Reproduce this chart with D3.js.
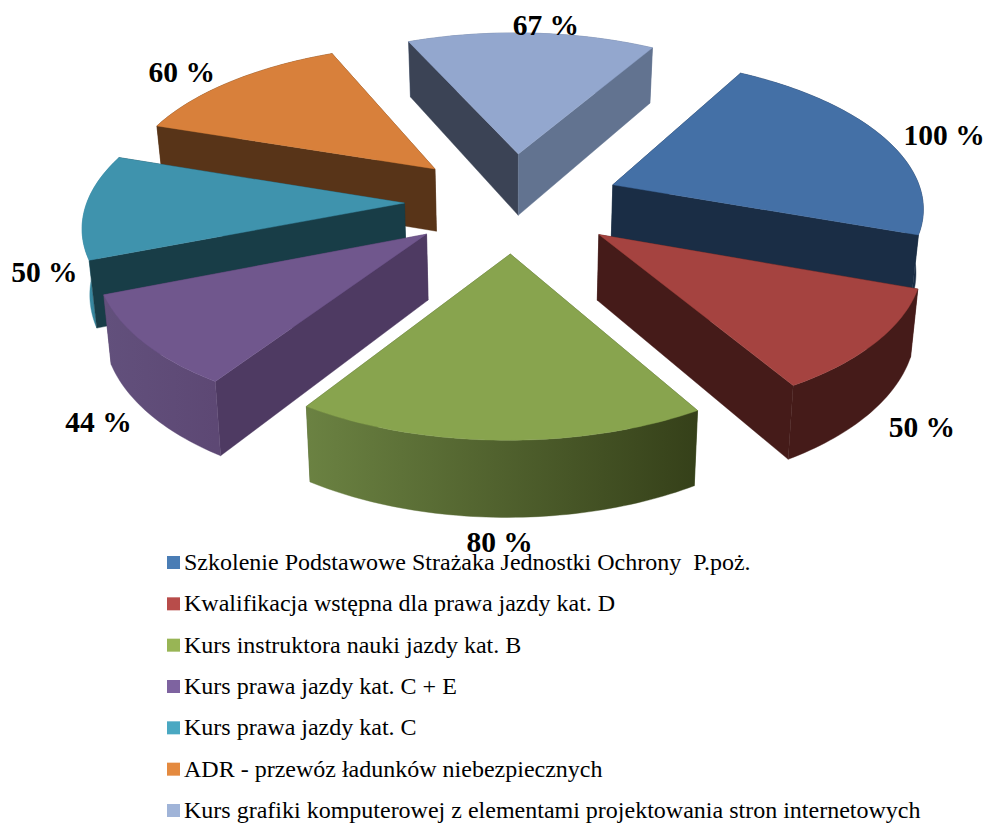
<!DOCTYPE html>
<html><head><meta charset="utf-8">
<style>html,body{margin:0;padding:0;background:#fff}svg{display:block}text{font-family:"Liberation Serif",serif;white-space:pre}</style>
<script src="https://cdn.jsdelivr.net/npm/d3@7"></script></head>
<body><svg id="c" width="985" height="824"></svg>
<script>
const categories=["Szkolenie Podstawowe Strażaka Jednostki Ochrony  P.poż.","Kwalifikacja wstępna dla prawa jazdy kat. D","Kurs instruktora nauki jazdy kat. B","Kurs prawa jazdy kat. C + E","Kurs prawa jazdy kat. C","ADR - przewóz ładunków niebezpiecznych","Kurs grafiki komputerowej z elementami projektowania stron internetowych"];
const values=[100,50,80,44,50,60,67];
const labels=["100 %","50 %","80 %","44 %","50 %","60 %","67 %"];
const topColors=["#4470A6","#A54340","#88A44E","#70578D","#3F93AD","#D8803B","#93A7CE"];
const startWall=["#1A2D45","#451B19","#4A5C2A","#4E3A62","#183D47","#583418","#3B4355"];
const endWall=["#1A2D45","#451B19","#4A5C2A","#4E3A62","#183D47","#583418","#627390"];
const outerL=["#1A2D45","#451B19","#6B8242","#62507C","#3A8CA4","#583418","#627390"];
const outerR=["#1A2D45","#451B19","#354019","#5D4874","#2F7A90","#583418","#627390"];
const legendColors=["#4A7DB5","#B84C4A","#98B555","#7E63A0","#4AA8C2","#E48A3F","#A0B4D8"];
const labelNudge=[[14,9],[-9,66],[1,65],[12,61],[17,68],[-16,8],[12,14]];

const CX=513,AX=320,SHEAR=-15,TILT=7.5,AY=121.9,BY=201.8,K=0.1276,EXPLODE=0.338,RXF=0.98,WALL=64,CONV=0.018;
function proj(u,v,z){const s=1/(1-K*v);let x=CX+(AX*u+SHEAR*v)*s,y=(AY*v+BY+TILT*u)*s;
  if(z){y+=WALL*s;x+=(CX-x)*CONV;}return [x,y];}
function ground(mid,a,r){return [EXPLODE*Math.sin(mid)+r*RXF*Math.sin(a),-EXPLODE*Math.cos(mid)-r*Math.cos(a)];}
const rad=d3.scaleLinear().domain([0,360]).range([0,2*Math.PI]);
const arcs=d3.pie().sort(null).startAngle(rad(27)).endAngle(rad(387))(values);
const svg=d3.select("#c"),defs=svg.append("defs");
const line=d3.line().curve(d3.curveLinearClosed);
const pts=(mid,a0,a1,z)=>{const n=Math.max(2,Math.ceil((a1-a0)/0.02));
  return d3.range(n+1).map(i=>{const a=a0+(a1-a0)*i/n,[u,v]=ground(mid,a,1);return proj(u,v,z);});};
const order=d3.range(values.length).map(i=>{const a=arcs[i],m=(a.startAngle+a.endAngle)/2;return {i,a,m,d:-Math.cos(m)};}).sort((p,q)=>d3.ascending(p.d,q.d));
const gs=svg.append("g");
order.forEach(({i,a,m})=>{
  const g=gs.append("g"),A=a.startAngle,B=a.endAngle;
  const [au,av]=ground(m,0,0),ap0=proj(au,av,0),ap1=proj(au,av,1);
  const p0=pts(m,A,B,0),p1=pts(m,A,B,1);
  const id="og"+i,xs=p0.map(d=>d[0]);
  const gr=defs.append("linearGradient").attr("id",id).attr("gradientUnits","userSpaceOnUse")
   .attr("x1",d3.min(xs)).attr("x2",d3.max(xs)).attr("y1",0).attr("y2",0);
  gr.append("stop").attr("offset",0).attr("stop-color",outerL[i]);
  gr.append("stop").attr("offset",1).attr("stop-color",outerR[i]);
  const walls=[
   {d:-.5*Math.cos(A),p:[ap0,p0[0],p1[0],ap1],c:startWall[i]},
   {d:-.5*Math.cos(B),p:[ap0,p0[p0.length-1],p1[p1.length-1],ap1],c:endWall[i]},
   {d:-Math.cos(m),p:p0.concat(p1.slice().reverse()),c:`url(#${id})`}
  ].sort((x,y)=>d3.ascending(x.d,y.d));
  walls.forEach(w=>g.append("path").attr("d",line(w.p)).attr("fill",w.c).attr("stroke",w.c).attr("stroke-width",.4));
  g.append("path").attr("d",line([ap0].concat(p0))).attr("fill",topColors[i]).attr("stroke",topColors[i]).attr("stroke-width",.4);
});
arcs.forEach((a,i)=>{const m=(a.startAngle+a.endAngle)/2,[u,v]=ground(m,m,1.18),[x,y]=proj(u,v,0);
  svg.append("text").attr("x",x+labelNudge[i][0]).attr("y",y+labelNudge[i][1]).attr("text-anchor","middle").attr("dominant-baseline","middle")
   .attr("font-size",29.5).attr("font-weight","bold").attr("fill","#000").text(labels[i]);});
const rowY=d3.scalePoint().domain(d3.range(categories.length)).range([562,810]);
const leg=svg.append("g");
categories.forEach((c,i)=>{const y=rowY(i);
  leg.append("rect").attr("x",167).attr("y",y-6).attr("width",13).attr("height",13).attr("fill",legendColors[i]);
  leg.append("text").attr("x",184).attr("y",y+8).attr("font-size",24).attr("fill","#000").text(c);});
</script></body></html>
